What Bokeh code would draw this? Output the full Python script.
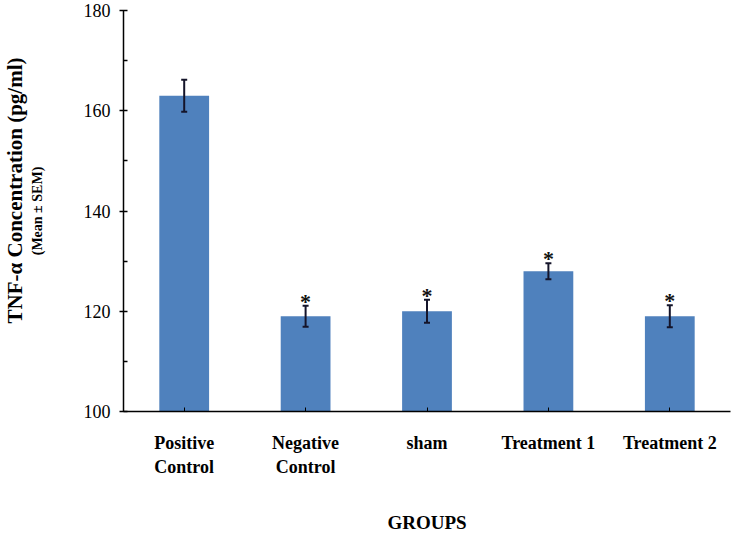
from bokeh.plotting import figure
from bokeh.models import ColumnDataSource, Whisker, TeeHead, FixedTicker, Title, Range1d, FactorRange
from bokeh.embed import file_html
from bokeh.resources import INLINE
from bokeh.core.properties import value

groups = ["Positive\nControl", "Negative\nControl", "sham", "Treatment 1", "Treatment 2"]
means = [163, 119, 120, 128, 119]
sem = [3.2, 2.1, 2.3, 1.6, 2.2]
stars = ["", "*", "*", "*", "*"]
y_ticks = [100, 120, 140, 160, 180]
y_minor = [110, 130, 150, 170]

FONT = "Liberation Serif"
W, H = 740, 535

src = ColumnDataSource(dict(
    g=groups, m=means,
    lo=[m - s for m, s in zip(means, sem)],
    hi=[m + s for m, s in zip(means, sem)],
    star=stars,
))

p = figure(width=W, height=H, x_range=FactorRange(*groups, range_padding=0),
           y_range=Range1d(100, 180), output_backend="svg", toolbar_location=None,
           min_border_left=123, min_border_right=10, min_border_top=10, min_border_bottom=10)
p.outline_line_color = None
p.xgrid.grid_line_color = None
p.ygrid.grid_line_color = None

p.vbar(x="g", top="m", bottom=100, width=0.41, source=src, fill_color="#4F81BD", line_color=None)
p.add_layout(Whisker(base="g", upper="hi", lower="lo", source=src, level="annotation",
                     line_color="#14142a", line_width=2,
                     upper_head=TeeHead(size=6, line_color="#14142a", line_width=2),
                     lower_head=TeeHead(size=6, line_color="#14142a", line_width=2)))
p.text(x="g", y="hi", text="star", source=src, text_font=value(FONT), text_font_size="22px",
       text_font_style="bold", text_align="center", text_baseline="bottom", y_offset=8, text_color="#111111")

# y axis
ya = p.yaxis[0]
ya.ticker = FixedTicker(ticks=y_ticks, minor_ticks=y_minor)
ya.axis_line_color = "black"
ya.axis_line_width = 1.5
ya.major_tick_line_color = "black"
ya.major_tick_line_width = 1.5
ya.major_tick_out = 4
ya.major_tick_in = 4
ya.minor_tick_line_color = "black"
ya.minor_tick_line_width = 1.5
ya.minor_tick_out = 0
ya.minor_tick_in = 4
ya.major_label_text_font = FONT
ya.major_label_text_font_size = "18px"
ya.major_label_text_color = "black"
ya.major_label_standoff = 9
ya.axis_label = "(Mean ± SEM)"
ya.axis_label_text_font = FONT
ya.axis_label_text_font_size = "14px"
ya.axis_label_text_font_style = "bold"
ya.axis_label_text_color = "black"
ya.axis_label_standoff = 36

# x axis
xa = p.xaxis[0]
xa.axis_line_color = "black"
xa.axis_line_width = 1.5
xa.major_tick_line_color = "black"
xa.major_tick_out = 0
xa.major_tick_in = 4
xa.major_label_text_font = FONT
xa.major_label_text_font_size = "18px"
xa.major_label_text_font_style = "bold"
xa.major_label_text_color = "black"
xa.major_label_standoff = 21
xa.axis_label = "GROUPS"
xa.axis_label_text_font = FONT
xa.axis_label_text_font_size = "19px"
xa.axis_label_text_font_style = "bold"
xa.axis_label_text_color = "black"
xa.axis_label_standoff = 32

p.add_layout(Title(text="TNF-α Concentration (pg/ml)", align="left", offset=88, standoff=0,
                   text_font=FONT, text_font_size="21px", text_font_style="bold",
                   text_color="black"), "left")

open("out.html", "w").write(file_html(p, INLINE))
